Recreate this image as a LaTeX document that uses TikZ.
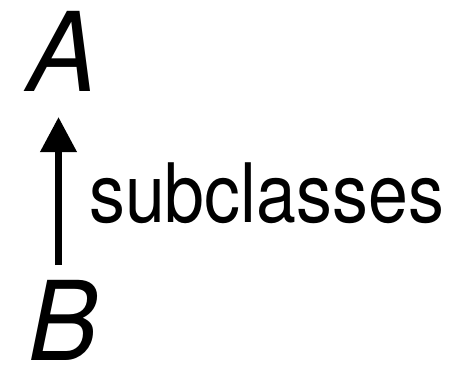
\documentclass[tikz,border=0pt]{standalone}
\usepackage{fontspec}
\setmainfont{TeX Gyre Heros}
\usetikzlibrary{arrows.meta}
\begin{document}
\begin{tikzpicture}[x=1pt,y=1pt,
  cls/.style={inner sep=0pt, anchor=base west, xscale=0.95, font=\fontsize{110}{110}\selectfont\itshape},
  lbl/.style={inner sep=0pt, anchor=base west, xscale=0.875, font=\fontsize{82}{82}\selectfont},
  rel/.style={line width=7pt, -{Triangle[length=35pt,width=35pt]}}]
  \useasboundingbox (0,0) rectangle (449,365);
  \node[cls] (A) at (27,274) {A};
  \node[cls] (B) at (28,5) {B};
  \node[lbl] (sub) at (89,143) {subclasses};
  \coordinate (tail) at (58.5,100);
  \coordinate (tip) at (58.5,248);
  \draw[rel] (tail) -- (tip);
\end{tikzpicture}
\end{document}
